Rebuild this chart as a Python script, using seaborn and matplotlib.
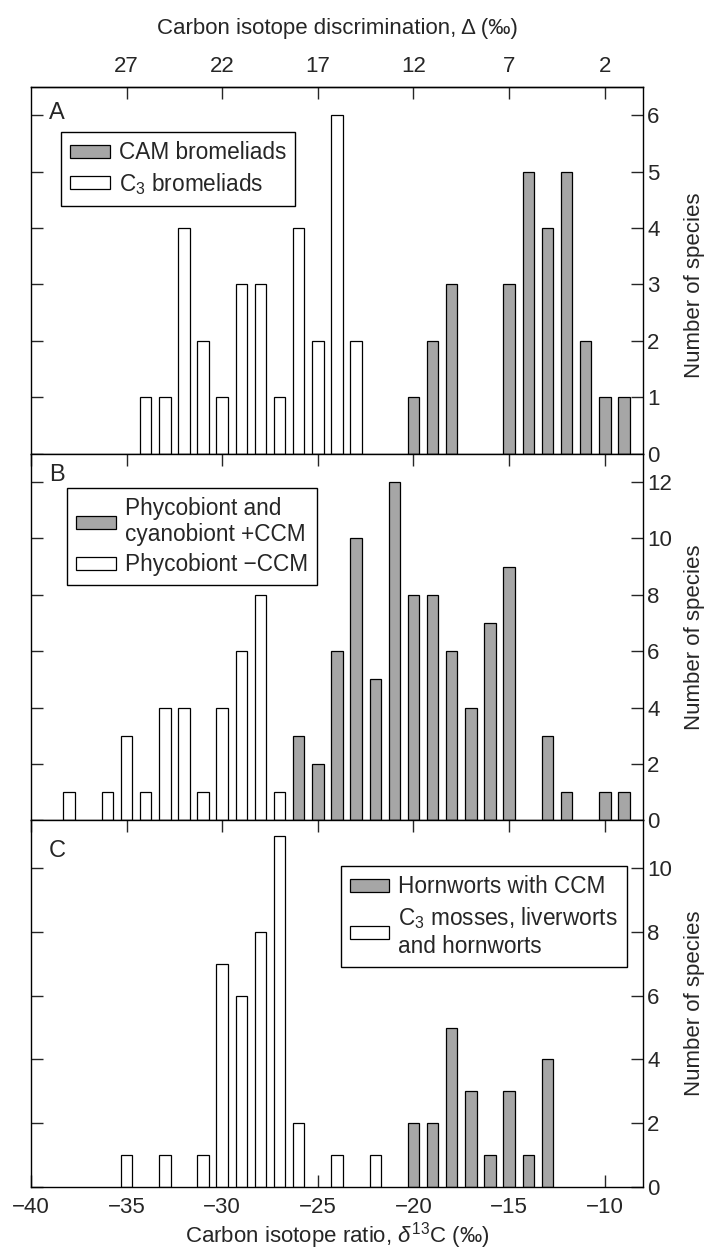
import matplotlib
matplotlib.use("Agg")
import matplotlib.pyplot as plt
import seaborn as sns
from matplotlib.patches import Patch

# ---------------- data ----------------
# Panel A: bromeliads
a_cam_x = [-20, -19, -18, -15, -14, -13, -12, -11, -10, -9]
a_cam_n = [1, 2, 3, 3, 5, 4, 5, 2, 1, 1]
a_c3_x = [-34, -33, -32, -31, -30, -29, -28, -27, -26, -25, -24, -23]
a_c3_n = [1, 1, 4, 2, 1, 3, 3, 1, 4, 2, 6, 2]
# Panel B: lichens
b_ccm_x = [-26, -25, -24, -23, -22, -21, -20, -19, -18, -17, -16, -15, -13, -12, -10, -9]
b_ccm_n = [3, 2, 6, 10, 5, 12, 8, 8, 6, 4, 7, 9, 3, 1, 1, 1]
b_noccm_x = [-38, -36, -35, -34, -33, -32, -31, -30, -29, -28, -27]
b_noccm_n = [1, 1, 3, 1, 4, 4, 1, 4, 6, 8, 1]
# Panel C: bryophytes
c_ccm_x = [-20, -19, -18, -17, -16, -15, -14, -13]
c_ccm_n = [2, 2, 5, 3, 1, 3, 1, 4]
c_c3_x = [-35, -33, -31, -30, -29, -28, -27, -26, -24, -22]
c_c3_n = [1, 1, 1, 7, 6, 8, 11, 2, 1, 1]

bottom_ticks = [-40, -35, -30, -25, -20, -15, -10]
top_ticks = [27, 22, 17, 12, 7, 2]

legend_a = ["CAM bromeliads", r"C$_3$ bromeliads"]
legend_b = ["Phycobiont and\ncyanobiont +CCM", "Phycobiont \u2212CCM"]
legend_c = ["Hornworts with CCM", "C$_3$ mosses, liverworts\nand hornworts"]

# ---------------- style ----------------
sns.set_style("white")
plt.rcParams["font.family"] = ["Liberation Sans", "DejaVu Sans"]
plt.rcParams["mathtext.fontset"] = "custom"
plt.rcParams["mathtext.rm"] = "Liberation Sans"
plt.rcParams["mathtext.it"] = "Liberation Sans:italic"
plt.rcParams["mathtext.bf"] = "Liberation Sans:bold"
plt.rcParams["axes.linewidth"] = 1.0

GRAY = "#a6a6a6"
FS = 16
TL = 8.5

fig, axes = plt.subplots(3, 1, figsize=(7.07, 12.52), dpi=100)
fig.subplots_adjust(left=0.0438, right=0.9095, bottom=0.0519, top=0.9305, hspace=0)
axA, axB, axC = axes

panels = [
    (axA, a_cam_x, a_cam_n, a_c3_x, a_c3_n, 6.5, 1, legend_a, (0.049, 0.877), "upper left", "A", 0.929, 0.46),
    (axB, b_ccm_x, b_ccm_n, b_noccm_x, b_noccm_n, 13.0, 2, legend_b, (0.059, 0.907), "upper left", "B", 0.943, 0.5),
    (axC, c_ccm_x, c_ccm_n, c_c3_x, c_c3_n, 11.5, 2, legend_c, (0.974, 0.875), "upper right", "C", 0.916, 0.5),
]

for i, (ax, gx, gn, wx, wn, ymax, ystep, labels, anchor, loc, letter, ly, yl) in enumerate(panels):
    sns.barplot(x=wx, y=wn, native_scale=True, width=0.6, color="white",
                edgecolor="black", linewidth=0.9, errorbar=None, saturation=1, ax=ax)
    sns.barplot(x=gx, y=gn, native_scale=True, width=0.6, color=GRAY,
                edgecolor="black", linewidth=0.9, errorbar=None, saturation=1, ax=ax)
    ax.set_xlim(-40, -8)
    ax.set_ylim(0, ymax)
    ax.set_xticks(bottom_ticks)
    ax.set_yticks(range(0, int(ymax) + 1, ystep))
    ax.set_xlabel("")
    ax.set_ylabel("")
    ax.text(1.084, yl, "Number of species", rotation=90, ha="center", va="center",
            transform=ax.transAxes, fontsize=16)
    for s in ax.spines.values():
        s.set_visible(True)
        s.set_linewidth(1.0)
        s.set_color("black")
    ax.tick_params(axis="y", direction="in", length=TL, width=1, left=True, right=True,
                   labelleft=False, labelright=True, labelsize=FS, pad=3)
    is_c = (i == 2)
    ax.tick_params(axis="x", direction="in", length=TL, width=1,
                   top=(i > 0), bottom=is_c, labeltop=False, labelbottom=is_c,
                   labelsize=FS, pad=7)
    handles = [Patch(facecolor=GRAY, edgecolor="black", linewidth=0.9),
               Patch(facecolor="white", edgecolor="black", linewidth=0.9)]
    leg = ax.legend(handles, labels, loc=loc, bbox_to_anchor=anchor, borderaxespad=0,
                    fontsize=16.3, frameon=True, fancybox=False, framealpha=1,
                    edgecolor="black", handlelength=1.75, handleheight=0.5,
                    handletextpad=0.4, labelspacing=0.3, borderpad=0.4)
    leg.get_frame().set_linewidth(1.0)
    ax.text(0.029, ly, letter, transform=ax.transAxes, ha="left", va="center", fontsize=17)

axC.set_xlabel(r"Carbon isotope ratio, $\delta^{13}$C (‰)", fontsize=16, labelpad=2)

sec = axA.secondary_xaxis("top", functions=(lambda d: -8 - d, lambda D: -8 - D))
sec.set_xticks(top_ticks)
sec.tick_params(direction="in", length=TL, width=1, labelsize=FS, pad=7)
sec.set_xlabel("Carbon isotope discrimination, \u0394 (‰)", fontsize=16, labelpad=16)

fig.savefig("out.png", dpi=100)
